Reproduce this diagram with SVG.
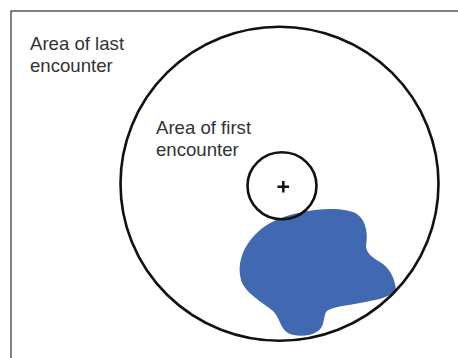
<svg xmlns="http://www.w3.org/2000/svg" width="458" height="358" viewBox="0 0 458 358">
<style>
.lbl{font-family:"Liberation Sans",Arial,sans-serif;font-size:18.6px;fill:#333}
.ring{fill:none;stroke:#111;stroke-width:2.6}
</style>
<rect x="0" y="0" width="458" height="358" fill="#fff"/>
<rect x="11" y="11" width="470" height="370" fill="none" stroke="#333" stroke-width="1.2"/>
<g id="blob">
<path d="M298,213 C320,208 345,207 357,214 C367,221 368,236 366,246 C366,254 375,259 383,264 C391,270 395,280 396,290 C390,298 375,300 360,303 C345,306 330,307 326,312 C323,318 325,326 318,331 C310,337 295,337 288,333 C280,328 280,318 273,311 C262,302 245,293 241,280 C237,265 242,250 252,238 C262,226 278,217 298,213 Z" fill="#4169b1"/>
</g>
<g id="outer">
<ellipse class="ring" cx="279.5" cy="183.7" rx="159" ry="157"/>
</g>
<g id="inner">
<ellipse class="ring" cx="282" cy="185.8" rx="34.5" ry="33.5"/>
<path d="M277.5,186.7 H289.1 M283.3,180.9 V192.5" stroke="#111" stroke-width="2.5"/>
</g>
<g id="label-last">
<text class="lbl" x="30" y="50">Area of last</text>
<text class="lbl" x="30" y="71.5">encounter</text>
</g>
<g id="label-first">
<text class="lbl" x="156" y="134">Area of first</text>
<text class="lbl" x="156" y="156">encounter</text>
</g>
<g id="connectors"></g>
</svg>
